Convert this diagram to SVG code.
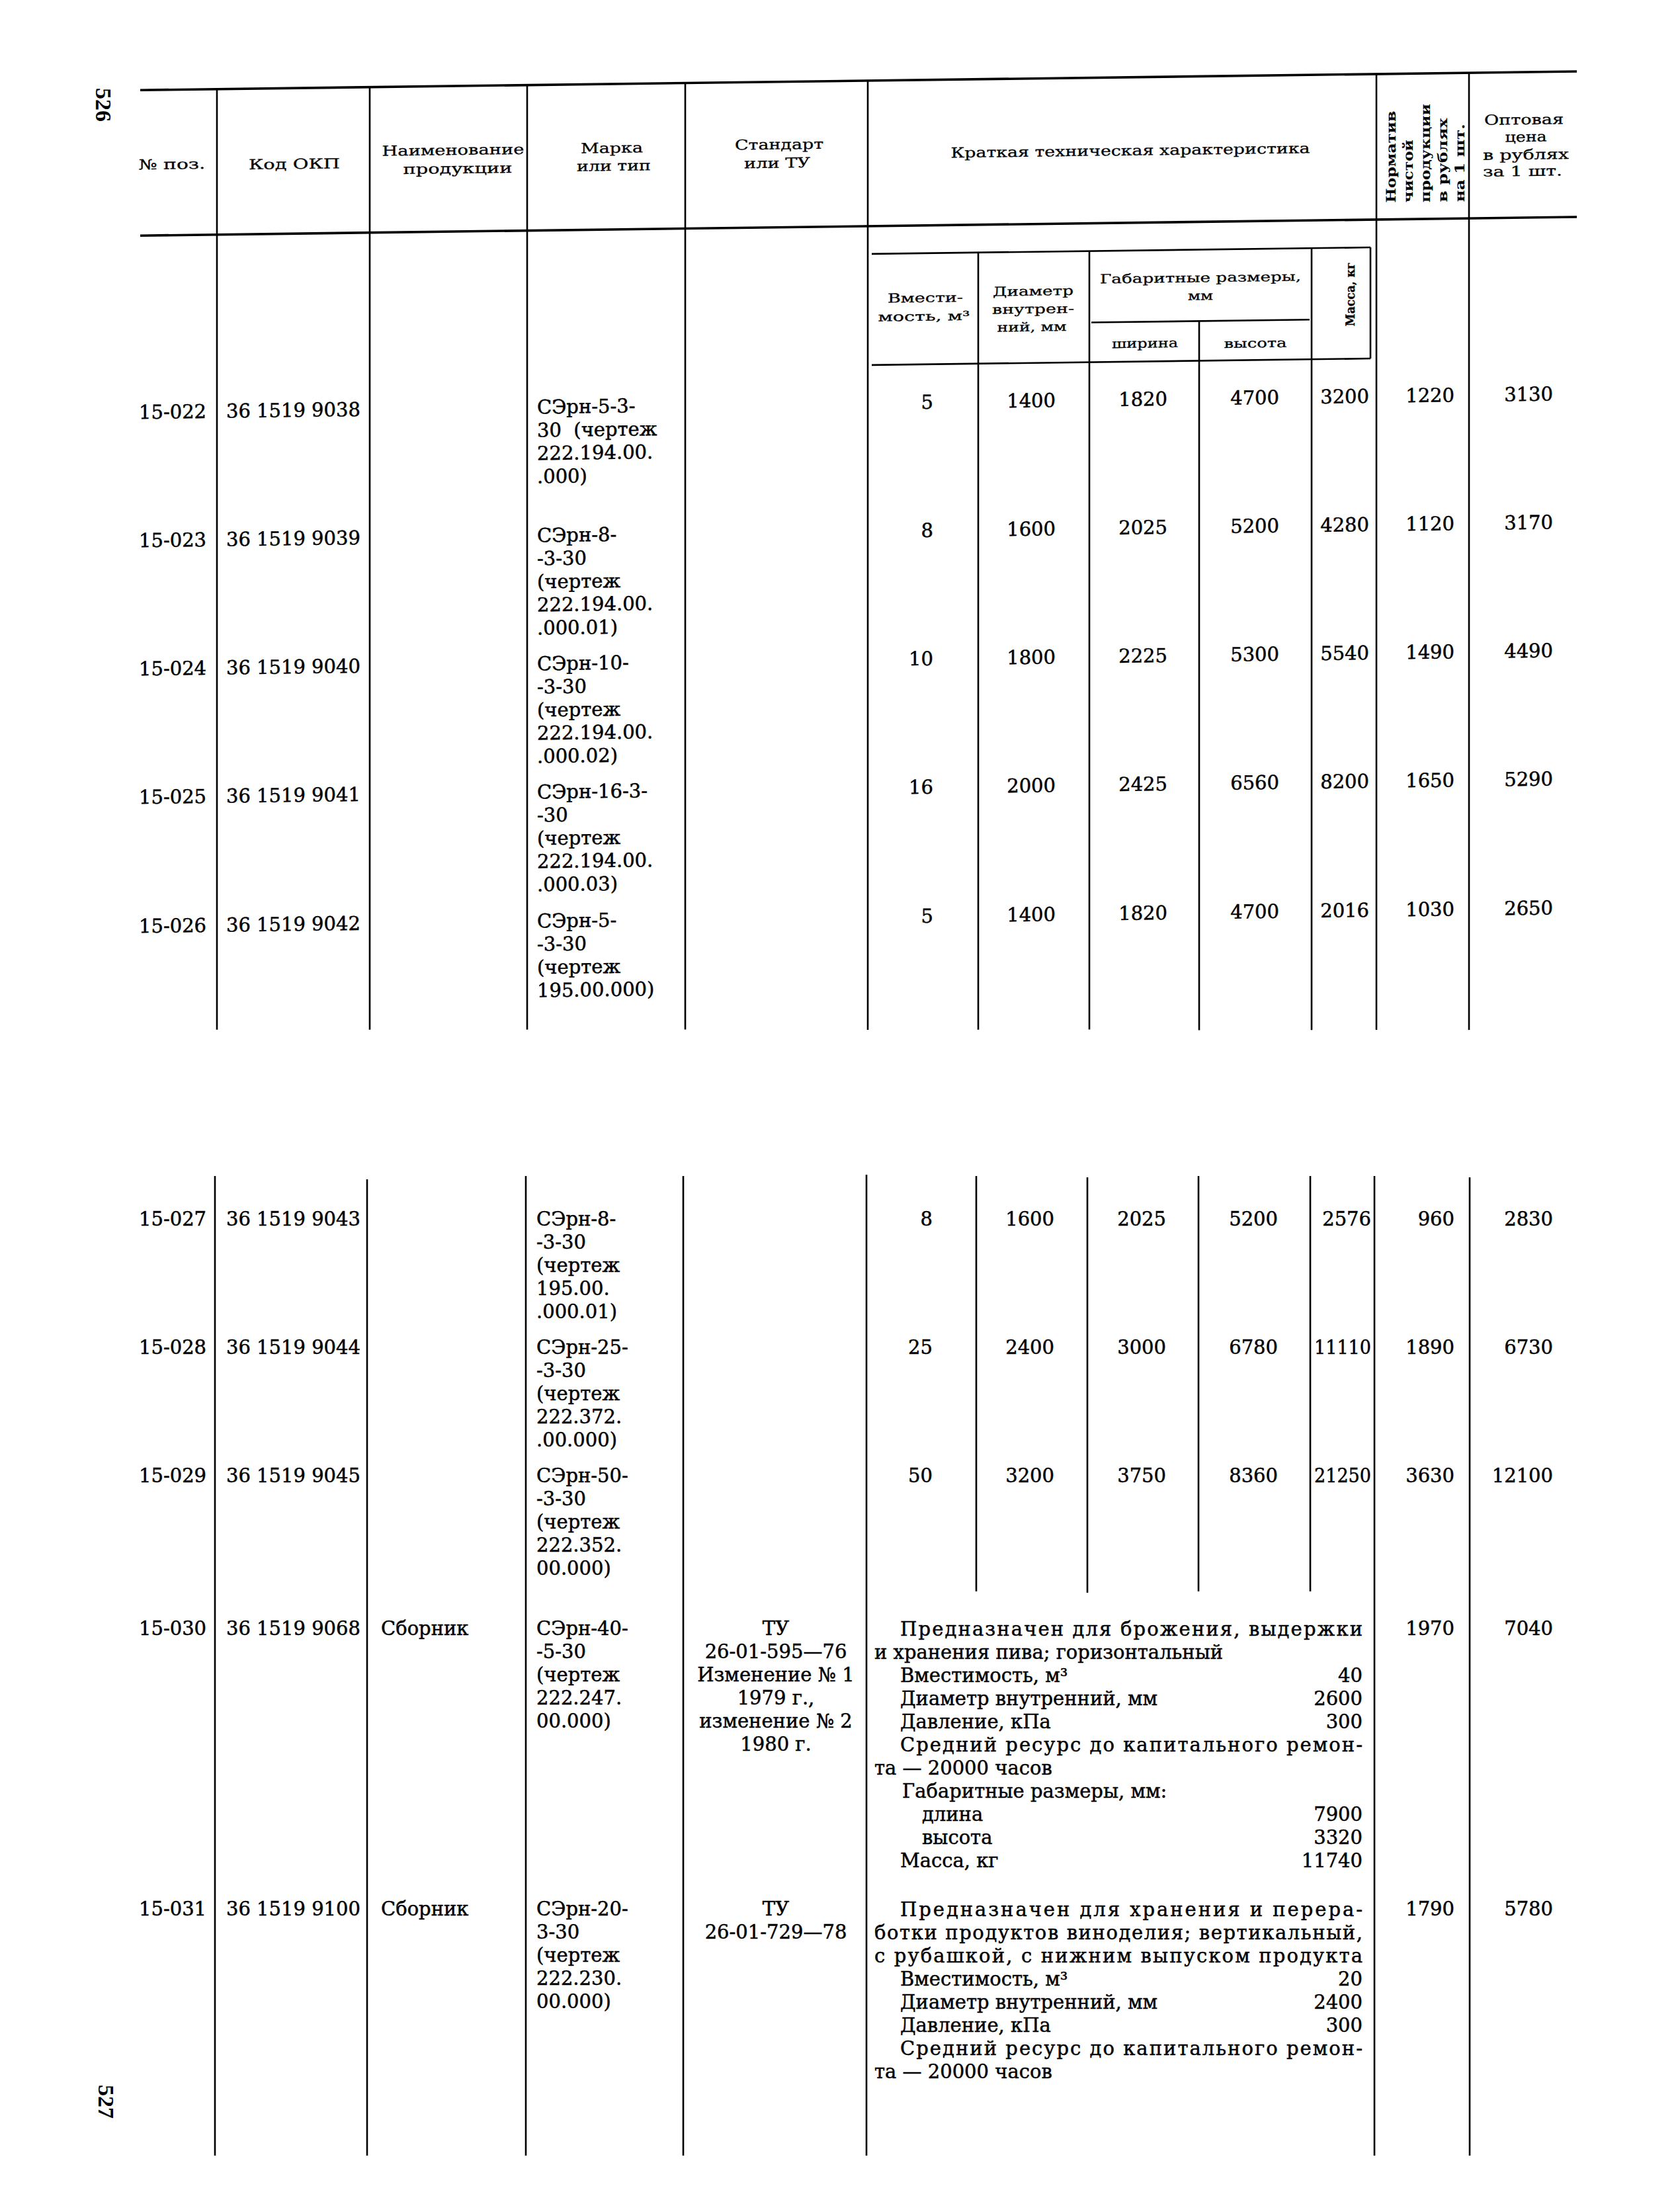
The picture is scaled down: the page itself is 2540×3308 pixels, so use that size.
<svg xmlns="http://www.w3.org/2000/svg" width="2540" height="3308" viewBox="0 0 2540 3308">
<style>
text{font-family:"DejaVu Serif","Liberation Serif",serif;fill:#000}
.d{font-size:29px;stroke:#000;stroke-width:0.5}
.e{font-size:29px;text-anchor:end;stroke:#000;stroke-width:0.5}
.h{font-size:21px;text-anchor:middle;stroke:#000;stroke-width:0.3}
.s{font-size:19px;text-anchor:middle;stroke:#000;stroke-width:0.3}
.v{font-size:20px;font-weight:bold}
.pg{font-family:"Liberation Serif",serif;font-size:34px;font-weight:bold}
.ln{stroke:#000;stroke-width:2.6;fill:none}
.rl{stroke:#000;stroke-width:3.6;fill:none}
</style>
<rect width="2540" height="3308" fill="#fff"/>
<g id="page-numbers">
<text class="pg" transform="translate(145,133) rotate(90)">526</text>
<text class="pg" transform="translate(149,3152) rotate(90)">527</text>
</g>

<g id="block1" transform="skewY(-0.745)">
<g id="connectors-block1">
<line class="rl" x1="212" y1="139" x2="2384" y2="139"/>
<line class="rl" x1="212" y1="359" x2="2384" y2="359"/>
<line class="ln" x1="328" y1="139" x2="328" y2="1561"/>
<line class="ln" x1="559" y1="139" x2="559" y2="1564"/>
<line class="ln" x1="797" y1="139" x2="797" y2="1567"/>
<line class="ln" x1="1036" y1="139" x2="1036" y2="1570"/>
<line class="ln" x1="1312" y1="139" x2="1312" y2="1574"/>
<line class="ln" x1="2081" y1="139" x2="2081" y2="1584"/>
<line class="ln" x1="2221" y1="139" x2="2221" y2="1586"/>
<line class="ln" x1="1318" y1="401" x2="2072" y2="401"/>
<line class="ln" x1="1650" y1="509" x2="1980" y2="509"/>
<line class="ln" x1="1318" y1="569" x2="2072" y2="569"/>
<line class="ln" x1="1479" y1="401" x2="1479" y2="1576"/>
<line class="ln" x1="1647" y1="401" x2="1647" y2="1578"/>
<line class="ln" x1="1813" y1="509" x2="1813" y2="1581"/>
<line class="ln" x1="1983" y1="401" x2="1983" y2="1583"/>
<line class="ln" x1="2072" y1="401" x2="2072" y2="569"/>
</g>
<g id="header">
<text class="h" x="260" y="259" textLength="101" lengthAdjust="spacingAndGlyphs">№ поз.</text>
<text class="h" x="445" y="261" textLength="138" lengthAdjust="spacingAndGlyphs">Код ОКП</text>
<text class="h" x="685" y="243" textLength="215" lengthAdjust="spacingAndGlyphs">Наименование</text>
<text class="h" x="692" y="271" textLength="165" lengthAdjust="spacingAndGlyphs">продукции</text>
<text class="h" x="925" y="243" textLength="94" lengthAdjust="spacingAndGlyphs">Марка</text>
<text class="h" x="928" y="270" textLength="112" lengthAdjust="spacingAndGlyphs">или тип</text>
<text class="h" x="1178" y="241" textLength="134" lengthAdjust="spacingAndGlyphs">Стандарт</text>
<text class="h" x="1175" y="269" textLength="100" lengthAdjust="spacingAndGlyphs">или ТУ</text>
<text class="h" x="1709" y="257" textLength="543" lengthAdjust="spacingAndGlyphs">Краткая техническая характеристика</text>
<text class="v" transform="translate(2110,334) rotate(-90)" textLength="139" lengthAdjust="spacingAndGlyphs">Норматив</text>
<text class="v" transform="translate(2136,334) rotate(-90)" textLength="95" lengthAdjust="spacingAndGlyphs">чистой</text>
<text class="v" transform="translate(2162,334) rotate(-90)" textLength="149" lengthAdjust="spacingAndGlyphs">продукции</text>
<text class="v" transform="translate(2188,334) rotate(-90)" textLength="127" lengthAdjust="spacingAndGlyphs">в рублях</text>
<text class="v" transform="translate(2214,334) rotate(-90)" textLength="118" lengthAdjust="spacingAndGlyphs">на 1 шт.</text>
<text class="h" x="2304" y="218" textLength="120" lengthAdjust="spacingAndGlyphs">Оптовая</text>
<text class="h" x="2307" y="244" textLength="63" lengthAdjust="spacingAndGlyphs">цена</text>
<text class="h" x="2307" y="271" textLength="130" lengthAdjust="spacingAndGlyphs">в рублях</text>
<text class="h" x="2302" y="296" textLength="120" lengthAdjust="spacingAndGlyphs">за 1 шт.</text>
</g>
<g id="subheader">
<text class="s" x="1399" y="475" textLength="114" lengthAdjust="spacingAndGlyphs">Вмести-</text>
<text class="s" x="1397" y="503" textLength="139" lengthAdjust="spacingAndGlyphs">мость, м³</text>
<text class="s" x="1562" y="467" textLength="122" lengthAdjust="spacingAndGlyphs">Диаметр</text>
<text class="s" x="1562" y="494" textLength="124" lengthAdjust="spacingAndGlyphs">внутрен-</text>
<text class="s" x="1560" y="521" textLength="105" lengthAdjust="spacingAndGlyphs">ний, мм</text>
<text class="s" x="1815" y="450" textLength="304" lengthAdjust="spacingAndGlyphs">Габаритные размеры,</text>
<text class="s" x="1815" y="477" textLength="38" lengthAdjust="spacingAndGlyphs">мм</text>
<text class="s" x="1731" y="548" textLength="100" lengthAdjust="spacingAndGlyphs">ширина</text>
<text class="s" x="1898" y="550" textLength="95" lengthAdjust="spacingAndGlyphs">высота</text>
<text class="s" transform="translate(2048,520) rotate(-90)" style="text-anchor:start;font-weight:bold" textLength="97" lengthAdjust="spacingAndGlyphs">Масса, кг</text>
</g>
<g id="r15-022">
<text class="d" x="210" y="636">15-022</text>
<text class="d" x="342" y="636">36 1519 9038</text>
<text class="d" x="812" y="636" style="white-space:pre"><tspan x="812" y="636">СЭрн-5-3-</tspan><tspan x="812" y="671">30  (чертеж</tspan><tspan x="812" y="706">222.194.00.</tspan><tspan x="812" y="741">.000)</tspan></text>
<text class="e" x="1411" y="636">5</text><text class="e" x="1596" y="636">1400</text><text class="e" x="1765" y="636">1820</text><text class="e" x="1934" y="636">4700</text><text class="e" x="2070" y="636">3200</text><text class="e" x="2199" y="636">1220</text><text class="e" x="2348" y="636">3130</text>
</g>
<g id="r15-023">
<text class="d" x="210" y="830">15-023</text>
<text class="d" x="342" y="830">36 1519 9039</text>
<text class="d"><tspan x="812" y="830">СЭрн-8-</tspan><tspan x="812" y="865">-3-30</tspan><tspan x="812" y="900">(чертеж</tspan><tspan x="812" y="935">222.194.00.</tspan><tspan x="812" y="970">.000.01)</tspan></text>
<text class="e" x="1411" y="830">8</text><text class="e" x="1596" y="830">1600</text><text class="e" x="1765" y="830">2025</text><text class="e" x="1934" y="830">5200</text><text class="e" x="2070" y="830">4280</text><text class="e" x="2199" y="830">1120</text><text class="e" x="2348" y="830">3170</text>
</g>
<g id="r15-024">
<text class="d" x="210" y="1024">15-024</text>
<text class="d" x="342" y="1024">36 1519 9040</text>
<text class="d"><tspan x="812" y="1024">СЭрн-10-</tspan><tspan x="812" y="1059">-3-30</tspan><tspan x="812" y="1094">(чертеж</tspan><tspan x="812" y="1129">222.194.00.</tspan><tspan x="812" y="1164">.000.02)</tspan></text>
<text class="e" x="1411" y="1024">10</text><text class="e" x="1596" y="1024">1800</text><text class="e" x="1765" y="1024">2225</text><text class="e" x="1934" y="1024">5300</text><text class="e" x="2070" y="1024">5540</text><text class="e" x="2199" y="1024">1490</text><text class="e" x="2348" y="1024">4490</text>
</g>
<g id="r15-025">
<text class="d" x="210" y="1218">15-025</text>
<text class="d" x="342" y="1218">36 1519 9041</text>
<text class="d"><tspan x="812" y="1218">СЭрн-16-3-</tspan><tspan x="812" y="1253">-30</tspan><tspan x="812" y="1288">(чертеж</tspan><tspan x="812" y="1323">222.194.00.</tspan><tspan x="812" y="1358">.000.03)</tspan></text>
<text class="e" x="1411" y="1218">16</text><text class="e" x="1596" y="1218">2000</text><text class="e" x="1765" y="1218">2425</text><text class="e" x="1934" y="1218">6560</text><text class="e" x="2070" y="1218">8200</text><text class="e" x="2199" y="1218">1650</text><text class="e" x="2348" y="1218">5290</text>
</g>
<g id="r15-026">
<text class="d" x="210" y="1413">15-026</text>
<text class="d" x="342" y="1413">36 1519 9042</text>
<text class="d"><tspan x="812" y="1413">СЭрн-5-</tspan><tspan x="812" y="1448">-3-30</tspan><tspan x="812" y="1483">(чертеж</tspan><tspan x="812" y="1518">195.00.000)</tspan></text>
<text class="e" x="1411" y="1413">5</text><text class="e" x="1596" y="1413">1400</text><text class="e" x="1765" y="1413">1820</text><text class="e" x="1934" y="1413">4700</text><text class="e" x="2070" y="1413">2016</text><text class="e" x="2199" y="1413">1030</text><text class="e" x="2348" y="1413">2650</text>
</g>
</g>

<g id="connectors-block2">
<line class="ln" x1="325" y1="1778" x2="325" y2="3259"/>
<line class="ln" x1="555" y1="1783" x2="555" y2="3259"/>
<line class="ln" x1="795" y1="1778" x2="795" y2="3259"/>
<line class="ln" x1="1033" y1="1778" x2="1033" y2="3259"/>
<line class="ln" x1="1310" y1="1776" x2="1310" y2="3259"/>
<line class="ln" x1="1476" y1="1778" x2="1476" y2="2406"/>
<line class="ln" x1="1644" y1="1780" x2="1644" y2="2408"/>
<line class="ln" x1="1812" y1="1778" x2="1812" y2="2406"/>
<line class="ln" x1="1981" y1="1778" x2="1981" y2="2406"/>
<line class="ln" x1="2078" y1="1778" x2="2078" y2="3259"/>
<line class="ln" x1="2222" y1="1780" x2="2222" y2="3259"/>
</g>
<g id="r15-027">
<text class="d" x="210" y="1853">15-027</text>
<text class="d" x="342" y="1853">36 1519 9043</text>
<text class="d"><tspan x="811" y="1853">СЭрн-8-</tspan><tspan x="811" y="1888">-3-30</tspan><tspan x="811" y="1923">(чертеж</tspan><tspan x="811" y="1958">195.00.</tspan><tspan x="811" y="1993">.000.01)</tspan></text>
<text class="e" x="1410" y="1853">8</text><text class="e" x="1594" y="1853">1600</text><text class="e" x="1763" y="1853">2025</text><text class="e" x="1932" y="1853">5200</text><text class="e" x="2073" y="1853">2576</text><text class="e" x="2199" y="1853">960</text><text class="e" x="2348" y="1853">2830</text>
</g>
<g id="r15-028">
<text class="d" x="210" y="2047">15-028</text>
<text class="d" x="342" y="2047">36 1519 9044</text>
<text class="d"><tspan x="811" y="2047">СЭрн-25-</tspan><tspan x="811" y="2082">-3-30</tspan><tspan x="811" y="2117">(чертеж</tspan><tspan x="811" y="2152">222.372.</tspan><tspan x="811" y="2187">.00.000)</tspan></text>
<text class="e" x="1410" y="2047">25</text><text class="e" x="1594" y="2047">2400</text><text class="e" x="1763" y="2047">3000</text><text class="e" x="1932" y="2047">6780</text><text class="e" x="2073" y="2047" textLength="86" lengthAdjust="spacingAndGlyphs">11110</text><text class="e" x="2199" y="2047">1890</text><text class="e" x="2348" y="2047">6730</text>
</g>
<g id="r15-029">
<text class="d" x="210" y="2241">15-029</text>
<text class="d" x="342" y="2241">36 1519 9045</text>
<text class="d"><tspan x="811" y="2241">СЭрн-50-</tspan><tspan x="811" y="2276">-3-30</tspan><tspan x="811" y="2311">(чертеж</tspan><tspan x="811" y="2346">222.352.</tspan><tspan x="811" y="2381">00.000)</tspan></text>
<text class="e" x="1410" y="2241">50</text><text class="e" x="1594" y="2241">3200</text><text class="e" x="1763" y="2241">3750</text><text class="e" x="1932" y="2241">8360</text><text class="e" x="2073" y="2241" textLength="86" lengthAdjust="spacingAndGlyphs">21250</text><text class="e" x="2199" y="2241">3630</text><text class="e" x="2348" y="2241">12100</text>
</g>
<g id="r15-030">
<text class="d" x="210" y="2472">15-030</text>
<text class="d" x="342" y="2472">36 1519 9068</text>
<text class="d" x="576" y="2472">Сборник</text>
<text class="d"><tspan x="811" y="2472">СЭрн-40-</tspan><tspan x="811" y="2507">-5-30</tspan><tspan x="811" y="2542">(чертеж</tspan><tspan x="811" y="2577">222.247.</tspan><tspan x="811" y="2612">00.000)</tspan></text>
<text class="d" style="text-anchor:middle"><tspan x="1173" y="2472">ТУ</tspan><tspan x="1173" y="2507">26-01-595—76</tspan><tspan x="1173" y="2542">Изменение № 1</tspan><tspan x="1173" y="2577">1979 г.,</tspan><tspan x="1173" y="2612">изменение № 2</tspan><tspan x="1173" y="2647">1980 г.</tspan></text>
<text class="d" x="1361" y="2473" textLength="699" lengthAdjust="spacing">Предназначен для брожения, выдержки</text>
<text class="d" x="1322" y="2508">и хранения пива; горизонтальный</text>
<text class="d" x="1361" y="2543">Вместимость, м³</text><text class="e" x="2060" y="2543">40</text>
<text class="d" x="1361" y="2578">Диаметр внутренний, мм</text><text class="e" x="2060" y="2578">2600</text>
<text class="d" x="1361" y="2613">Давление, кПа</text><text class="e" x="2060" y="2613">300</text>
<text class="d" x="1361" y="2648" textLength="699" lengthAdjust="spacing">Средний ресурс до капитального ремон-</text>
<text class="d" x="1322" y="2683">та — 20000 часов</text>
<text class="d" x="1364" y="2718">Габаритные размеры, мм:</text>
<text class="d" x="1394" y="2753">длина</text><text class="e" x="2060" y="2753">7900</text>
<text class="d" x="1394" y="2788">высота</text><text class="e" x="2060" y="2788">3320</text>
<text class="d" x="1361" y="2823">Масса, кг</text><text class="e" x="2060" y="2823">11740</text>
<text class="e" x="2199" y="2472">1970</text><text class="e" x="2348" y="2472">7040</text>
</g>
<g id="r15-031">
<text class="d" x="210" y="2896">15-031</text>
<text class="d" x="342" y="2896">36 1519 9100</text>
<text class="d" x="576" y="2896">Сборник</text>
<text class="d"><tspan x="811" y="2896">СЭрн-20-</tspan><tspan x="811" y="2931">3-30</tspan><tspan x="811" y="2966">(чертеж</tspan><tspan x="811" y="3001">222.230.</tspan><tspan x="811" y="3036">00.000)</tspan></text>
<text class="d" style="text-anchor:middle"><tspan x="1173" y="2896">ТУ</tspan><tspan x="1173" y="2931">26-01-729—78</tspan></text>
<text class="d" x="1361" y="2897" textLength="699" lengthAdjust="spacing">Предназначен для хранения и перера-</text>
<text class="d" x="1322" y="2932" textLength="738" lengthAdjust="spacing">ботки продуктов виноделия; вертикальный,</text>
<text class="d" x="1322" y="2967" textLength="738" lengthAdjust="spacing">с рубашкой, с нижним выпуском продукта</text>
<text class="d" x="1361" y="3002">Вместимость, м³</text><text class="e" x="2060" y="3002">20</text>
<text class="d" x="1361" y="3037">Диаметр внутренний, мм</text><text class="e" x="2060" y="3037">2400</text>
<text class="d" x="1361" y="3072">Давление, кПа</text><text class="e" x="2060" y="3072">300</text>
<text class="d" x="1361" y="3107" textLength="699" lengthAdjust="spacing">Средний ресурс до капитального ремон-</text>
<text class="d" x="1322" y="3142">та — 20000 часов</text>
<text class="e" x="2199" y="2896">1790</text><text class="e" x="2348" y="2896">5780</text>
</g>
</svg>
